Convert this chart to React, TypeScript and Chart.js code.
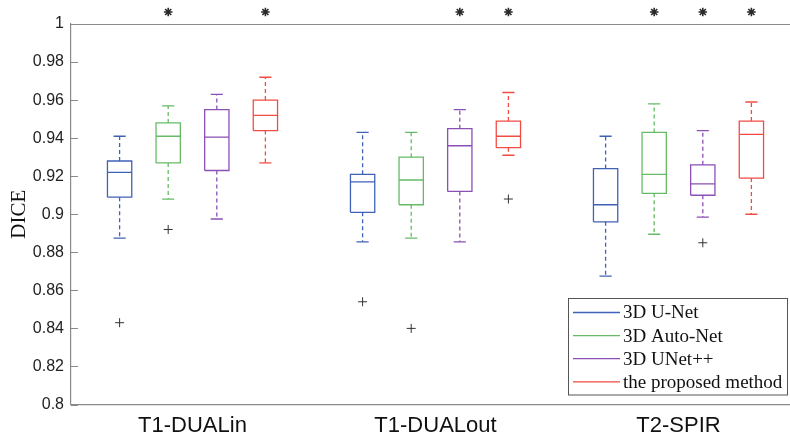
import React, { useEffect, useRef } from "react";
import { Chart, registerables } from "chart.js";

Chart.register(...registerables);

// ---- data ----
const categories = ["T1-DUALin", "T1-DUALout", "T2-SPIR"];
const seriesNames = ["3D U-Net", "3D Auto-Net", "3D UNet++", "the proposed method"];
const seriesColors = ["#3f61b6", "#66ba66", "#8c4fb4", "#f24b43"];

// indexed [series][category]
const upperWhisker = [
  [0.941, 0.943, 0.941],
  [0.957, 0.943, 0.958],
  [0.963, 0.955, 0.944],
  [0.972, 0.964, 0.959],
];
const q3 = [
  [0.928, 0.921, 0.924],
  [0.948, 0.930, 0.943],
  [0.955, 0.945, 0.926],
  [0.960, 0.949, 0.949],
];
const medians = [
  [0.922, 0.917, 0.905],
  [0.941, 0.918, 0.921],
  [0.9405, 0.936, 0.916],
  [0.952, 0.941, 0.942],
];
const q1 = [
  [0.909, 0.901, 0.896],
  [0.927, 0.905, 0.911],
  [0.923, 0.912, 0.910],
  [0.944, 0.935, 0.919],
];
const lowerWhisker = [
  [0.8875, 0.8855, 0.8675],
  [0.908, 0.8875, 0.8895],
  [0.8975, 0.8855, 0.8985],
  [0.927, 0.931, 0.900],
];
const outliers = [
  [[0.843], [0.854], []],
  [[0.892], [0.840], []],
  [[], [], [0.885]],
  [[], [0.908], []],
];
const significant = [
  [false, false, false],
  [true, false, true],
  [false, true, true],
  [true, true, true],
];
const yMin = 0.8;
const yMax = 1;
const yStep = 0.02;
const starLevel = 1.0063;

// ---- layout constants ----
const BOX_HALF = 0.25;
const CAP_HALF = 0.125;
const AXIS_COLOR = "#8a8a8a";
const boxPos = (g: number, s: number) => g * 5 + s + 1;

function buildDatasets() {
  const ds: any[] = [];
  const line = (data: any[], color: string, dashed = false) => ({
    type: "scatter",
    data,
    showLine: true,
    borderColor: color,
    borderWidth: 1.3,
    borderDash: dashed ? [4, 3] : [],
    pointRadius: 0,
    tension: 0,
    fill: false,
    borderJoinStyle: "miter",
  });
  for (let s = 0; s < seriesNames.length; s++) {
    const c = seriesColors[s];
    for (let g = 0; g < categories.length; g++) {
      const x = boxPos(g, s);
      ds.push(line([{ x, y: q3[s][g] }, { x, y: upperWhisker[s][g] }], c, true));
      ds.push(line([{ x, y: q1[s][g] }, { x, y: lowerWhisker[s][g] }], c, true));
      ds.push(line([{ x: x - CAP_HALF, y: upperWhisker[s][g] }, { x: x + CAP_HALF, y: upperWhisker[s][g] }], c));
      ds.push(line([{ x: x - CAP_HALF, y: lowerWhisker[s][g] }, { x: x + CAP_HALF, y: lowerWhisker[s][g] }], c));
      ds.push(
        line(
          [
            { x: x - BOX_HALF, y: q1[s][g] },
            { x: x + BOX_HALF, y: q1[s][g] },
            { x: x + BOX_HALF, y: q3[s][g] },
            { x: x - BOX_HALF, y: q3[s][g] },
            { x: x - BOX_HALF, y: q1[s][g] },
          ],
          c
        )
      );
      ds.push(line([{ x: x - BOX_HALF, y: medians[s][g] }, { x: x + BOX_HALF, y: medians[s][g] }], c));
    }
  }
  const outPts: any[] = [];
  for (let s = 0; s < seriesNames.length; s++) {
    for (let g = 0; g < categories.length; g++) {
      outliers[s][g].forEach((v) => outPts.push({ x: boxPos(g, s), y: v }));
    }
  }
  ds.push({
    type: "scatter",
    data: outPts,
    pointStyle: "cross",
    pointRadius: 4.5,
    borderColor: "#333",
    borderWidth: 1,
    backgroundColor: "#333",
  });
  return ds;
}

const decorPlugin = {
  id: "decor",
  afterDraw(chart: any) {
    const { ctx, chartArea, scales } = chart;
    const y = scales.y;
    const x = scales.x;
    ctx.save();
    ctx.strokeStyle = AXIS_COLOR;
    ctx.lineWidth = 1.2;
    ctx.beginPath();
    const top = Math.round(chartArea.top) + 0.5;
    ctx.moveTo(chartArea.left, top);
    ctx.lineTo(chartArea.right, top);
    y.ticks.forEach((t: any) => {
      const py = Math.round(y.getPixelForValue(t.value)) + 0.5;
      ctx.moveTo(chartArea.left, py);
      ctx.lineTo(chartArea.left + 7, py);
    });
    ctx.stroke();

    // significance asterisks
    ctx.strokeStyle = "#2a2a2a";
    ctx.lineWidth = 1.6;
    const r = 4.3;
    for (let s = 0; s < seriesNames.length; s++) {
      for (let g = 0; g < categories.length; g++) {
        if (!significant[s][g]) continue;
        const px = x.getPixelForValue(boxPos(g, s));
        const py = y.getPixelForValue(starLevel);
        ctx.beginPath();
        for (let k = 0; k < 4; k++) {
          const a = (k * Math.PI) / 4;
          ctx.moveTo(px - r * Math.cos(a), py - r * Math.sin(a));
          ctx.lineTo(px + r * Math.cos(a), py + r * Math.sin(a));
        }
        ctx.stroke();
      }
    }

    // legend
    const lx = 568, ly = 298, lw = 219, lh = 96.5;
    ctx.fillStyle = "#fff";
    ctx.fillRect(lx, ly, lw, lh);
    ctx.strokeStyle = "#555";
    ctx.lineWidth = 1;
    ctx.strokeRect(lx + 0.5, ly + 0.5, lw, lh);
    ctx.font = "19px 'Liberation Serif', 'DejaVu Serif', serif";
    ctx.textBaseline = "middle";
    ctx.textAlign = "left";
    seriesNames.forEach((name, i) => {
      const ry = ly + 14.5 + i * 23.1;
      ctx.strokeStyle = seriesColors[i];
      ctx.lineWidth = 1.3;
      ctx.beginPath();
      ctx.moveTo(lx + 5, ry);
      ctx.lineTo(lx + 52, ry);
      ctx.stroke();
      ctx.fillStyle = "#111";
      ctx.fillText(name, lx + 55, ry + 1);
    });
    ctx.restore();
  },
};

export default function App() {
  const ref = useRef<HTMLCanvasElement | null>(null);
  useEffect(() => {
    if (!ref.current) return;
    const chart = new Chart(ref.current, {
      type: "scatter",
      data: { datasets: buildDatasets() },
      options: {
        animation: false,
        responsive: false,
        devicePixelRatio: 1,
        events: [],
        layout: { padding: { top: 24, right: 10, left: 0, bottom: 0 } },
        plugins: { legend: { display: false }, tooltip: { enabled: false } },
        scales: {
          x: {
            type: "linear",
            min: 0,
            max: 15,
            afterFit: (s: any) => {
              s.height = 35.5;
            },
            afterBuildTicks: (s: any) => {
              s.ticks = categories.map((_, g) => ({ value: g * 5 + 2.5 }));
            },
            grid: { display: false, drawTicks: false },
            border: { display: true, color: AXIS_COLOR, width: 1.2 },
            ticks: {
              autoSkip: false,
              maxRotation: 0,
              padding: 8,
              color: "#111",
              font: { family: "'Liberation Sans', Arial, sans-serif", size: 22 },
              callback: (_v: any, i: number) => categories[i],
            },
          },
          y: {
            type: "linear",
            min: yMin,
            max: yMax,
            afterFit: (s: any) => {
              s.width = 71;
            },
            grid: { display: false, drawTicks: false },
            border: { display: true, color: AXIS_COLOR, width: 1.2 },
            title: {
              display: true,
              text: "DICE",
              color: "#111",
              padding: 7,
              font: { family: "'Liberation Serif', 'DejaVu Serif', serif", size: 21 },
            },
            ticks: {
              stepSize: yStep,
              padding: 7,
              color: "#222",
              font: { family: "'Liberation Sans', Arial, sans-serif", size: 16 },
              callback: (v: any) => String(+Number(v).toFixed(2)),
            },
          },
        },
      },
      plugins: [decorPlugin],
    } as any);
    return () => chart.destroy();
  }, []);
  return (
    <div style={{ position: "fixed", left: 0, top: 0, width: 790, height: 440, overflow: "hidden", background: "#fff" }}>
      <canvas ref={ref} width={810} height={440} style={{ display: "block" }} />
    </div>
  );
}
